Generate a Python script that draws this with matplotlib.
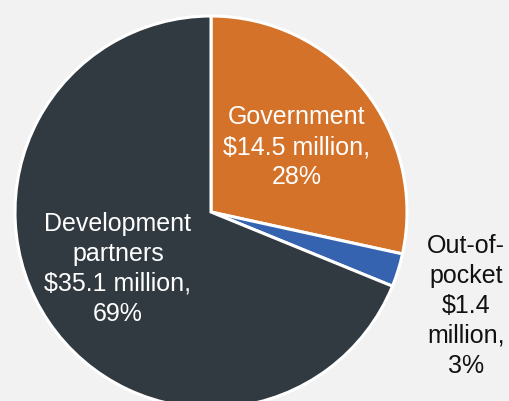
import matplotlib
matplotlib.use("Agg")
import matplotlib.pyplot as plt

# Funding sources, drawn clockwise from 12 o'clock
sources = ["Government", "Out-of-pocket", "Development partners"]
amounts = [14.5, 1.4, 35.1]          # US$ million
shares = [28, 3, 69]                 # percent of total
label_texts = [
    "Government\n$14.5 million,\n28%",
    "Out-of-\npocket\n$1.4\nmillion,\n3%",
    "Development\npartners\n$35.1 million,\n69%",
]
colors = ["#d4722a", "#3563b0", "#323a41"]
text_colors = ["white", "#111111", "white"]

W, H = 509, 401
fig = plt.figure(figsize=(W / 100, H / 100), dpi=100, facecolor="#f2f2f2")
ax = fig.add_axes([0, 0, 1, 1])
ax.set_facecolor("#f2f2f2")

center = (211, H - 212)
radius = 196
wedges, _ = ax.pie(
    amounts,
    colors=colors,
    startangle=90,
    counterclock=False,
    center=center,
    radius=radius,
    wedgeprops=dict(edgecolor="white", linewidth=2.2),
    frame=True,
)
ax.set_xlim(0, W)
ax.set_ylim(0, H)
ax.set_aspect("equal")
ax.axis("off")

# Label anchor points (pixel space, y up)
label_pos = [(297, H - 147), (466, H - 306), (118, H - 269)]
for txt, col, (x, y) in zip(label_texts, text_colors, label_pos):
    ax.text(x, y, txt, ha="center", va="center", multialignment="center",
            color=col, fontsize=18, family="Liberation Sans", linespacing=1.31)

fig.savefig("out.png", dpi=100, facecolor=fig.get_facecolor())
